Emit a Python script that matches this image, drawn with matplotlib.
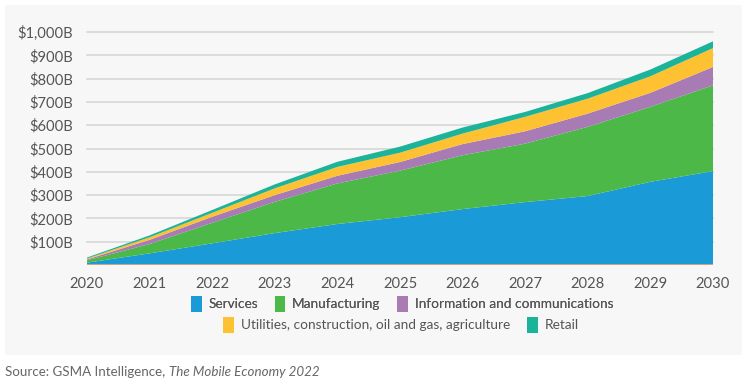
import numpy as np
import matplotlib.pyplot as plt
from matplotlib.patches import Rectangle, Patch

# ============================================================
# Data (USD billions)
# ============================================================

years = [2020, 2021, 2022, 2023, 2024, 2025, 2026, 2027, 2028, 2029, 2030]

services = [10, 50, 93, 137, 176, 205, 240, 270, 296, 357, 403]
manufacturing = [10, 40, 88, 134, 174, 200, 231, 251, 297, 322, 368]
info_comm = [4, 18, 26, 29, 33, 37, 48, 53, 57, 60, 79]
utilities = [4, 11, 17, 29, 38, 40, 45, 62, 64, 71, 81]
retail = [4, 8, 12, 17, 22, 26, 26, 21, 24, 29, 29]

series_labels = [
    "Services",
    "Manufacturing",
    "Information and communications",
    "Utilities, construction, oil and gas, agriculture",
    "Retail",
]
colors = ["#1a9ad6", "#4cb848", "#a97bb5", "#fec132", "#1bb39a"]

y_ticks = [100, 200, 300, 400, 500, 600, 700, 800, 900, 1000]
y_labels = ["$100B", "$200B", "$300B", "$400B", "$500B",
            "$600B", "$700B", "$800B", "$900B", "$1,000B"]

plt.rcParams["font.family"] = ["Lato", "DejaVu Sans"]

fig = plt.figure(figsize=(7.54, 3.83), dpi=100)

# gray panel behind the chart
fig.patches.append(Rectangle((5 / 754, 1 - 355 / 383), 737 / 754, 350 / 383,
                             transform=fig.transFigure, facecolor="#f7f7f7",
                             edgecolor="none", zorder=-5))

ax = fig.add_axes([87 / 754, 1 - 265 / 383, 626 / 754, 233 / 383])
ax.set_facecolor("none")
ax.set_zorder(2)

ax.stackplot(years, services, manufacturing, info_comm, utilities, retail,
             colors=colors, linewidth=0, zorder=2)

ax.set_xlim(2020, 2030)
ax.set_ylim(0, 1000)
ax.set_yticks(y_ticks)
ax.set_yticklabels(y_labels)
ax.set_xticks(years)
ax.set_xticklabels([str(y) for y in years])

for y in y_ticks:
    ax.axhline(y, color="#dcdcdc", linewidth=1.4, zorder=1, clip_on=False)
ax.axhline(0, color="#c9a68a", linewidth=1.5, zorder=3)

for s in ax.spines.values():
    s.set_visible(False)
ax.tick_params(length=0, labelsize=10.6, colors="#555555")
ax.tick_params(axis="y", pad=10)
ax.tick_params(axis="x", pad=9)

# legend in two centred rows
handles = [Patch(facecolor=c, edgecolor="none") for c in colors]
leg_kw = dict(loc="center", frameon=False, fontsize=9.8, handlelength=0.8,
              handleheight=1.5, handletextpad=0.5, columnspacing=1.2,
              labelcolor="#555555", borderpad=0)
leg1 = fig.legend(handles[:3], series_labels[:3], ncol=3,
                  bbox_to_anchor=(402 / 754, 1 - 304 / 383), **leg_kw)
leg2 = fig.legend(handles[3:], series_labels[3:], ncol=2,
                  bbox_to_anchor=(401 / 754, 1 - 325 / 383), **leg_kw)
fig.add_artist(leg1)

# source line
t = fig.text(5 / 754, 1 - 372 / 383, "Source: GSMA Intelligence, ",
             fontsize=9.6, color="#666666", va="center", ha="left")
fig.canvas.draw()
bb = t.get_window_extent()
fig.text(bb.x1 / fig.bbox.width, 1 - 372 / 383, "The Mobile Economy 2022",
         fontsize=9.6, color="#666666", va="center", ha="left", style="italic")

fig.savefig("out.png", dpi=100, facecolor="white")
